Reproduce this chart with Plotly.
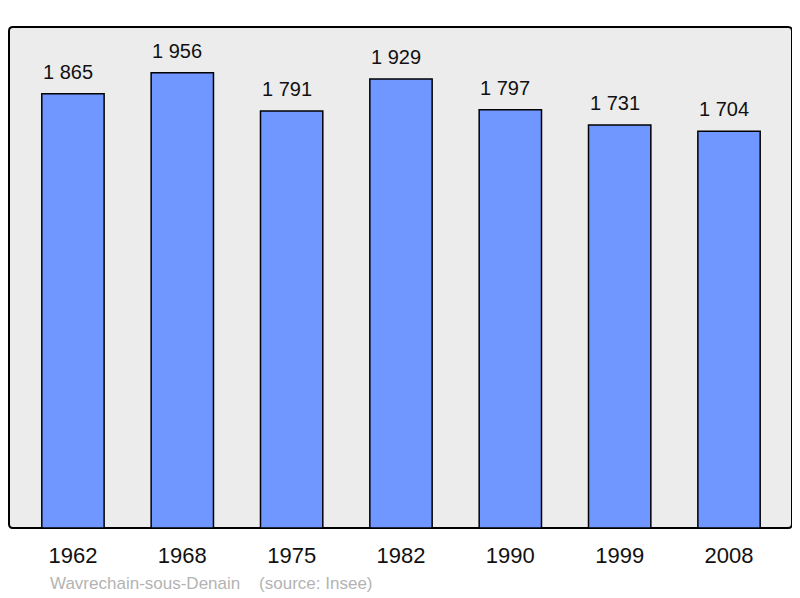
import plotly.graph_objects as go

years = ["1962", "1968", "1975", "1982", "1990", "1999", "2008"]
population = [1865, 1956, 1791, 1929, 1797, 1731, 1704]
value_labels = ["1 865", "1 956", "1 791", "1 929", "1 797", "1 731", "1 704"]

x_pos = list(range(len(years)))

W, H = 792, 590
ML, MR, MT, MB = 1, 8, 19, 70
plot_h = H - MT - MB

fig = go.Figure()
fig.add_trace(go.Bar(
    x=x_pos, y=population, width=0.57,
    marker=dict(color="#7097ff", line=dict(color="#000000", width=1.5)),
    textposition="none", hoverinfo="skip",
))

for xp, v, lab in zip(x_pos, population, value_labels):
    fig.add_annotation(x=xp, y=v, text=lab, showarrow=False, xref="x", yref="y",
                       yanchor="bottom", yshift=9, xshift=-5,
                       font=dict(family="Liberation Sans, Arial", size=20, color="#111111"))

# rounded plot frame
fig.add_shape(type="path", xref="paper", yref="paper",
              path="M 0.005,0 L 0.995,0 Q 1,0 1,0.008 L 1,0.992 Q 1,1 0.995,1 L 0.005,1 Q 0,1 0,0.992 L 0,0.008 Q 0,0 0.005,0 Z",
              line=dict(color="#000000", width=2), fillcolor="#ececec", layer="below")

fig.add_annotation(x=(40 - ML) / (W - ML - MR), y=-(575 - (H - MB)) / plot_h,
                   xref="paper", yref="paper",
                   text="Wavrechain-sous-Denain&nbsp;&nbsp;&nbsp;&nbsp;(source: Insee)",
                   showarrow=False, xanchor="left", yanchor="middle",
                   font=dict(family="Liberation Sans, Arial", size=17, color="#b3b3b3"))

fig.update_layout(
    width=W, height=H,
    margin=dict(l=ML, r=MR, t=MT, b=MB),
    paper_bgcolor="#ffffff", plot_bgcolor="rgba(0,0,0,0)",
    showlegend=False,
    xaxis=dict(range=[-0.585, 6.576], tickvals=x_pos, ticktext=years,
               showgrid=False, zeroline=False, showline=False,
               ticks="outside", ticklen=8, tickcolor="rgba(0,0,0,0)",
               tickfont=dict(family="Liberation Sans, Arial", size=22, color="#111111"),
               fixedrange=True),
    yaxis=dict(range=[0, 2152], visible=False, fixedrange=True),
)

fig.write_html("out.html")
